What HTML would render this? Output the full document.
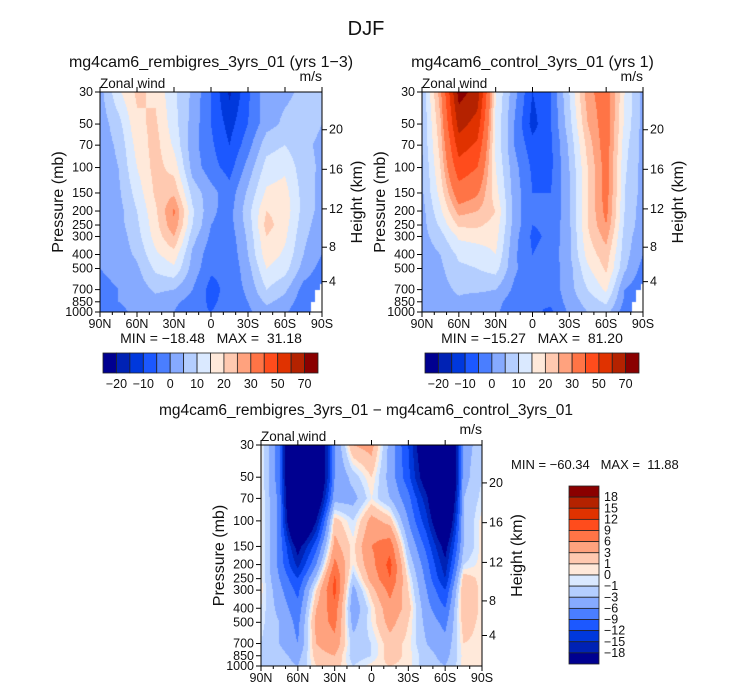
<!DOCTYPE html>
<html><head><meta charset="utf-8">
<style>
body{margin:0;background:#fff;width:732px;height:690px;position:relative;overflow:hidden;font-family:"Liberation Sans",sans-serif}
canvas{position:absolute}
svg{position:absolute;left:0;top:0}
svg text{white-space:pre}
</style></head>
<body>
<canvas id="c0"></canvas>
<canvas id="c1"></canvas>
<canvas id="c2"></canvas>
<svg id="ov" width="732" height="690"></svg>
<script>
const levelsP=[30,50,70,100,150,200,250,300,400,500,700,850,1000];
const lats=[90,75,60,45,30,15,0,-15,-30,-45,-60,-75,-90];
const fieldRemb=[
[3,14,21,19,11,4,-5,-16,-6,3,4,6,6],
[2,8,19,21,12,3,-5,-12,-5,3,6,7,5],
[2,6,17,22,14,2,-4,-10,-2,8,10,6,4],
[2,5,15,22,18,3,-3,-7,2,12,14,7,4],
[1,4,12,21,24,8,2,-3,6,16,17,8,3],
[1,3,10,19,31,11,1,-2,8,20,18,8,3],
[1,3,9,18,29,10,0,-2,7,22,17,7,2],
[1,2,8,17,25,7,-1,-3,6,20,16,6,2],
[0,2,6,14,18,4,-3,-4,5,18,14,5,0],
[0,1,4,11,14,3,-4,-4,3,15,12,3,-2],
[-1,0,2,6,5,0,-7,-3,1,10,6,-2,-4],
[-2,0,1,3,1,-2,-6,-3,0,6,3,-3,-5],
[-3,-1,1,2,0,-4,-5,-3,-1,3,1,-5,-5]];
const fieldCtrl=[
[5,28,74,66,15,2,-10,-5,10,28,34,15,3],
[5,24,64,56,14,0,-12,-5,8,25,34,14,3],
[5,22,55,48,14,0,-8,-6,6,22,34,12,3],
[4,20,46,40,15,2,-6,-6,5,20,33,11,3],
[4,17,35,31,17,3,-5,-5,4,20,33,10,3],
[3,14,27,25,20,3,-5,-5,4,20,32,10,2],
[3,11,21,21,18,3,-5,-4,4,20,30,9,2],
[3,8,16,17,17,2,-6,-4,4,19,27,8,1],
[2,5,11,12,15,1,-5,-3,4,17,23,7,0],
[2,4,9,10,12,1,-4,-3,3,14,21,6,-2],
[1,3,6,6,5,-1,-3,-3,3,10,16,0,-4],
[0,2,4,2,2,-3,-5,-4,2,7,11,-1,-5],
[0,1,2,0,1,-4,-4,-6,1,5,7,-3,-5]];
const fieldDiff=[
[0.5,-8,-40,-30,-6,3,4,-4,-12,-25,-40,-4,-2],
[0.5,-8,-40,-30,-6,-2,1,-4,-11,-22,-40,-4,-1],
[0.5,-7,-38,-25,-4,-4,0,-3,-8,-17,-35,-3,-0.5],
[0.5,-7,-33,-18,2,-1,4,2,-6,-14,-28,-3,0.5],
[0.5,-7,-20,-10,4,0.5,6,8,-3,-10,-20,-3,0.5],
[0.5,-7,-16,-6,7,0,5,10,-1,-8,-17,-1,0.5],
[0.5,-6,-12,-2,9.5,-2,4,9,0.5,-7,-15,2,0.5],
[0.5,-5,-10,1,10,-4,2,7,1,-6,-12,3,0.5],
[0,-4,-8,3,8,-5,0,5,2,-5,-9,3,0.5],
[-0.5,-3,-7,4,7,-4,0,4,1,-4,-7,2,0.5],
[-1,-3,-6,3,5,-2,-1,2,0.5,-3,-5,1,0.5],
[-1,-2,-4,2,3,-2,-1,2,0.5,-2,-4,0.5,0],
[-1,-2,-3,1,2,-1,0.5,1,0.5,-2,-3,0.5,0]];
const levTop=[-20,-15,-10,-5,0,5,10,15,20,25,30,40,50,60,70];
const levDiff=[-18,-15,-12,-9,-6,-3,-1,0,1,3,6,9,12,15,18];
const labTop=["−20","−10","0","10","20","30","50","70"];
const labDiff=["18","15","12","9","6","3","1","0","−1","−3","−6","−9","−12","−15","−18"];
const pTicks=[30,50,70,100,150,200,250,300,400,500,700,850,1000];
const latTicks=[90,60,30,0,-30,-60,-90];
const kmTicks=[4,8,12,16,20];
const pal=['#000090','#0022b4','#0038dc','#1c58ff','#4a7eff','#86aaff','#b4ceff','#dae9ff','#ffe9da','#ffc9b0','#ffa27e','#ff7446','#ff4c1c','#e03200','#b42200','#8a0000'];

const panels=[
 {id:'c0',x:100,y:92,w:222,h:220,data:fieldRemb,lev:levTop,ant:true,name:'rembigres'},
 {id:'c1',x:422,y:92,w:221,h:220,data:fieldCtrl,lev:levTop,ant:true,name:'control'},
 {id:'c2',x:261,y:445,w:221,h:221,data:fieldDiff,lev:levDiff,ant:false,name:'difference'}];
const L=Math.log(1000/30);
function xs(P,lat){return P.x+(90-lat)/180*P.w;}
function ys(P,p){return P.y+P.h*Math.log(p/30)/L;}
function hexrgb(h){return [parseInt(h.substr(1,2),16),parseInt(h.substr(3,2),16),parseInt(h.substr(5,2),16)];}
const palRGB=pal.map(hexrgb);
function sample(data,lat,p){
  let j=(90-lat)/15; j=Math.max(0,Math.min(11.9999,j)); const j0=Math.floor(j),tj=j-j0;
  let i=0; while(i<levelsP.length-2 && p>levelsP[i+1]) i++;
  let ti=Math.log(p/levelsP[i])/Math.log(levelsP[i+1]/levelsP[i]); ti=Math.max(0,Math.min(1,ti));
  const a=data[i][j0]*(1-tj)+data[i][j0+1]*tj, b=data[i+1][j0]*(1-tj)+data[i+1][j0+1]*tj;
  return a*(1-ti)+b*ti;
}
panels.forEach(P=>{
  const c=document.getElementById(P.id);
  c.width=P.w;c.height=P.h;c.style.left=P.x+'px';c.style.top=P.y+'px';
  const ctx=c.getContext('2d');const img=ctx.createImageData(P.w,P.h);
  for(let py=0;py<P.h;py++){const p=30*Math.exp((py+0.5)/P.h*L);
    for(let px=0;px<P.w;px++){const lat=90-(px+0.5)/P.w*180;
      let v=sample(P.data,lat,p);let k=0;while(k<P.lev.length&&v>=P.lev[k])k++;
      let col=palRGB[k];
      if(P.ant){const lim=lat<-88?640:(lat<-84?700:(lat<-81?850:2000)); if(p>lim) col=[255,255,255];}
      const o=(py*P.w+px)*4;img.data[o]=col[0];img.data[o+1]=col[1];img.data[o+2]=col[2];img.data[o+3]=255;}}
  ctx.putImageData(img,0,0);
});
const NS='http://www.w3.org/2000/svg';const svg=document.getElementById('ov');
function el(t,a,txt){const e=document.createElementNS(NS,t);for(const k in a)e.setAttribute(k,a[k]);if(txt!==undefined)e.textContent=txt;svg.appendChild(e);return e;}
function txt(x,y,s,size,anchor,name,rot){const a={x:x,y:y,'font-size':size,'text-anchor':anchor||'start',fill:'#111','font-family':'Liberation Sans, sans-serif'};if(rot)a.transform='rotate(-90 '+x+' '+y+')';const e=el('text',a,s);

return e;}
function pz(z){const zm=z*1000;return zm<11000?1013.25*Math.pow(1-2.2558e-5*zm,5.2559):226.32*Math.exp(-(zm-11000)/6341.6);}
txt(366,35,'DJF',20,'middle','main-title');
const titles=['mg4cam6_rembigres_3yrs_01 (yrs 1−3)','mg4cam6_control_3yrs_01 (yrs 1)','mg4cam6_rembigres_3yrs_01 − mg4cam6_control_3yrs_01'];
panels.forEach((P,n)=>{
  const cx=P.x+P.w/2;
  txt(n==2?366:cx,P.y-(n==2?30:25),titles[n],n==2?15.5:16,'middle','panel-title-'+P.name);
  txt(P.x,P.y-4,'Zonal wind',13.5,'start','variable-label');
  txt(P.x+P.w,P.y-11,'m/s',14,'end','units-label');
  const fr=el('rect',{x:P.x,y:P.y,width:P.w,height:P.h,fill:'none',stroke:'#000','stroke-width':1});
  
  
  pTicks.forEach(p=>{const y=ys(P,p);
    const t=el('line',{x1:P.x-5,x2:P.x,y1:y,y2:y,stroke:'#000'});
    
    
    txt(P.x-7,y+4,String(p),12.5,'end','pressure-tick-label');});
  for(let lat=90;lat>=-90;lat-=10){const x=xs(P,lat);const major=lat%30==0;
    const t=el('line',{x1:x,x2:x,y1:P.y+P.h,y2:P.y+P.h+(major?5:3),stroke:'#000'});
    
    
    if(major){const t2=el('line',{x1:x,x2:x,y1:P.y,y2:P.y-5,stroke:'#000'});
      
      }}
  latTicks.forEach(lat=>{const s=lat==0?'0':(Math.abs(lat)+(lat>0?'N':'S'));
    txt(xs(P,lat),P.y+P.h+16,s,12.5,'middle','lat-tick-label');});
  kmTicks.forEach(z=>{const y=ys(P,pz(z));
    const t=el('line',{x1:P.x+P.w,x2:P.x+P.w+5,y1:y,y2:y,stroke:'#000'});
    
    
    txt(P.x+P.w+7,y+4,String(z),12.5,'start','height-tick-label');});
  txt(P.x-37,P.y+P.h/2,'Pressure (mb)',16,'middle','y-axis-title',true);
  txt(P.x+P.w+40,P.y+P.h/2,'Height (km)',16,'middle','right-axis-title',true);
});
txt(211,343,'MIN = −18.48   MAX =  31.18',14,'middle','minmax-rembigres');
txt(532,343,'MIN = −15.27   MAX =  81.20',14,'middle','minmax-control');
txt(511,469,'MIN = −60.34   MAX =  11.88',13,'start','minmax-difference');
[[103,318],[425,639]].forEach((cb,n)=>{const bw=(cb[1]-cb[0])/pal.length;
  pal.forEach((c,k)=>{const r=el('rect',{x:cb[0]+k*bw,y:353,width:bw,height:20,fill:c,stroke:'#222','stroke-width':0.8});
    
    });
  labTop.forEach((s,k)=>txt(cb[0]+(2*k+1)*bw,388,s,12.5,'middle','colorbar-label'));
});
{const x=569,w=30,y0=486,bh=(664-486)/pal.length;
 pal.forEach((c,k)=>{const r=el('rect',{x:x,y:y0+k*bh,width:w,height:bh,fill:pal[pal.length-1-k],stroke:'#222','stroke-width':0.8});
   
   });
 labDiff.forEach((s,k)=>txt(x+w+5,y0+(k+1)*bh+4,s,12.5,'start','diff-colorbar-label'));}
</script>
</body></html>
